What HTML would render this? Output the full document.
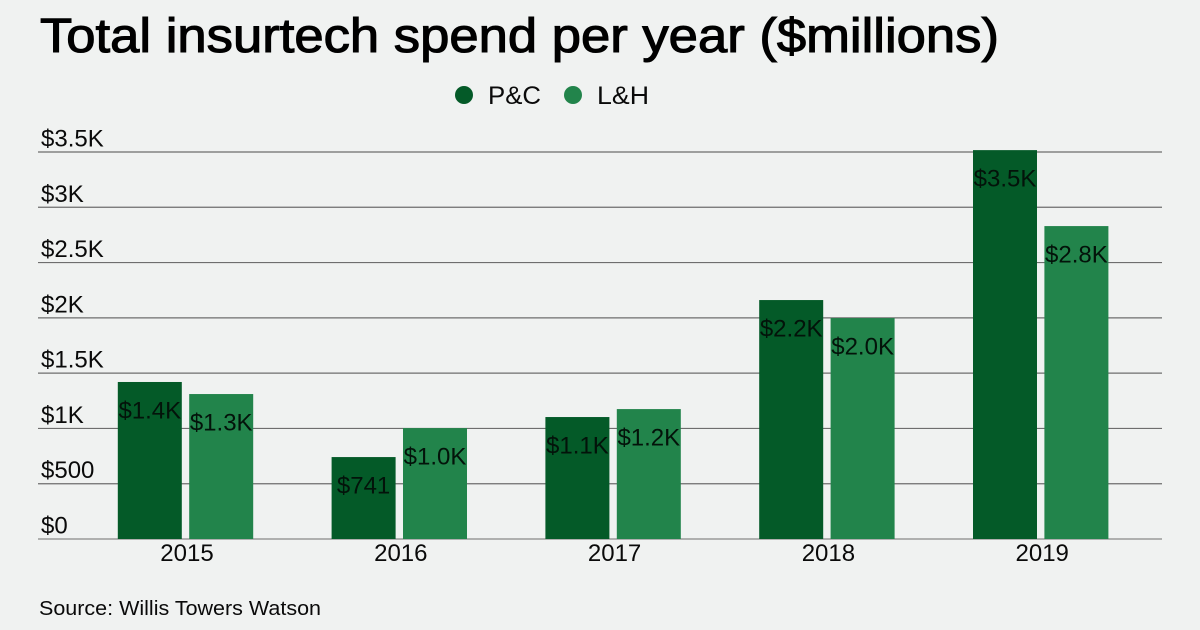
<!DOCTYPE html>
<html lang="en">
<head>
<meta charset="utf-8">
<title>Total insurtech spend per year</title>
<style>
html,body{margin:0;padding:0;background:#f0f2f1;}
svg{display:block;font-family:"Liberation Sans",sans-serif;fill:#0a0a0a;}
</style>
</head>
<body>
<svg id="chart" width="1200" height="630" viewBox="0 0 1200 630" xmlns="http://www.w3.org/2000/svg">
  <rect x="0" y="0" width="1200" height="630" fill="#f0f2f1"/>
  <text x="40" y="52" font-size="48" textLength="959" lengthAdjust="spacingAndGlyphs" fill="#000" stroke="#000" stroke-width="1.1">Total insurtech spend per year ($millions)</text>
  <g>
    <circle cx="464" cy="95" r="9" fill="#045a28"/>
    <text x="488" y="104" font-size="25" textLength="53" lengthAdjust="spacingAndGlyphs">P&amp;C</text>
    <circle cx="573" cy="95" r="9" fill="#22844b"/>
    <text x="597" y="104" font-size="25" textLength="52" lengthAdjust="spacingAndGlyphs">L&amp;H</text>
  </g>
  <g id="grid"></g>
  <g id="bars"></g>
  <g id="xaxis"></g>
  <text x="39" y="615" font-size="20" textLength="282" lengthAdjust="spacingAndGlyphs">Source: Willis Towers Watson</text>
</svg>
<script>
var years = ['2015', '2016', '2017', '2018', '2019'];
var pcValues = [1420, 741, 1103, 2161, 3517];
var lhValues = [1311, 1003, 1175, 1998, 2830];
var pcLabels = ['$1.4K', '$741', '$1.1K', '$2.2K', '$3.5K'];
var lhLabels = ['$1.3K', '$1.0K', '$1.2K', '$2.0K', '$2.8K'];
var tickValues = [0, 500, 1000, 1500, 2000, 2500, 3000, 3500];
var tickLabels = ['$0', '$500', '$1K', '$1.5K', '$2K', '$2.5K', '$3K', '$3.5K'];

var NS = 'http://www.w3.org/2000/svg';
function yScale(v) { return 539 - v * (387 / 3500); }
function groupCenter(i) { return 185.5 + i * 213.8; }
function make(tag, parent, attrs, text) {
  var el = document.createElementNS(NS, tag);
  for (var k in attrs) el.setAttribute(k, attrs[k]);
  if (text !== undefined) el.textContent = text;
  parent.appendChild(el);
  return el;
}
var grid = document.getElementById('grid');
var bars = document.getElementById('bars');
var xaxis = document.getElementById('xaxis');

tickValues.forEach(function (v, i) {
  var y = yScale(v);
  var line = make('line', grid, { x1: 38, x2: 1162, y1: y, y2: y, stroke: i === 0 ? '#999' : '#6e6e6e', 'stroke-width': i === 0 ? 1.6 : 1.2 });
  
  
  var label = make('text', grid, { x: 41, y: y - 5.5, 'font-size': 24 }, tickLabels[i]);
  
  
});

function drawBar(value, text, cx, color, seriesName) {
  var w = 64;
  var top = yScale(value);
  var rect = make('rect', bars, { x: cx - w / 2, y: top, width: w, height: 539 - top, fill: color });
  
  
  var label = make('text', bars, { x: cx, y: top + 36.5, 'font-size': 24, 'text-anchor': 'middle', fill: '#03130a' }, text);
  
  
}

years.forEach(function (year, i) {
  var c = groupCenter(i);
  drawBar(pcValues[i], pcLabels[i], c - 35.7, '#045a28', 'pc');
  drawBar(lhValues[i], lhLabels[i], c + 35.7, '#22844b', 'lh');
  var label = make('text', xaxis, { x: c + 1.5, y: 561, 'font-size': 24, 'text-anchor': 'middle' }, year);
  
  
});
</script>
</body>
</html>
